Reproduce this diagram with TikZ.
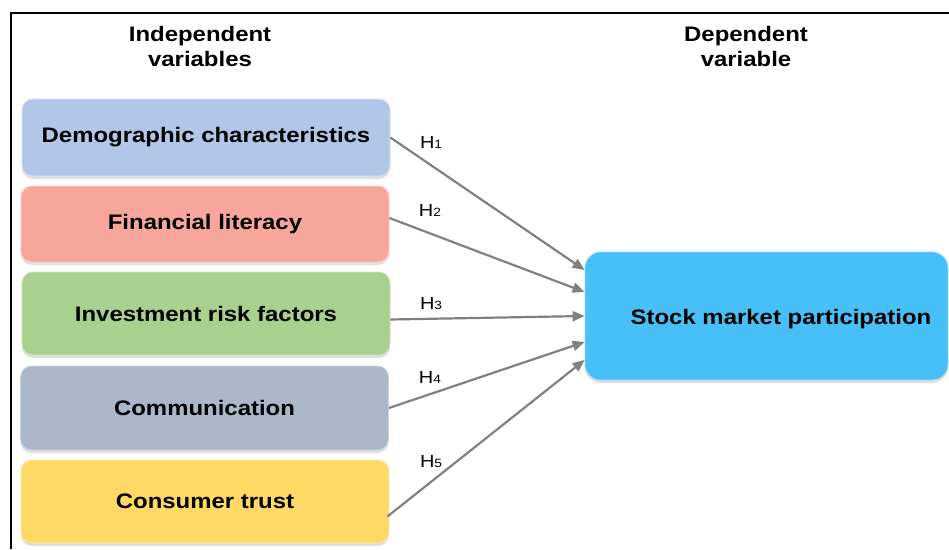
\documentclass[tikz,border=0pt]{standalone}
\usepackage{fontspec}
\setmainfont{Liberation Sans}[FakeStretch=1.14]
\usetikzlibrary{arrows.meta,calc,shadows}

\definecolor{demoblue}{HTML}{B2C6E7}
\definecolor{finred}{HTML}{F6A69B}
\definecolor{riskgreen}{HTML}{A9D18E}
\definecolor{commgray}{HTML}{ABB8CB}
\definecolor{trustyellow}{HTML}{FFD966}
\definecolor{stockcyan}{HTML}{47BFF7}
\definecolor{arrowgray}{HTML}{808080}

\tikzset{
  varbox/.style={rounded corners=11pt, fill=#1, draw=#1!60!white, line width=0.8pt,
    minimum width=368pt, minimum height=80pt, inner sep=0pt,
    font=\fontsize{21}{25}\selectfont\bfseries,
    drop shadow={shadow xshift=0pt, shadow yshift=-3pt, opacity=0.25}},
  headtext/.style={align=center, font=\fontsize{21}{25}\selectfont\bfseries},
  hlabel/.style={font=\fontsize{17.5}{20}\selectfont},
  hyp/.style={draw=arrowgray, line width=2.2pt, -{Triangle[length=12pt,width=10pt]}}
}

\newcommand{\hyplabel}[1]{H{\fontsize{12}{12}\selectfont #1}}

\begin{document}
\begin{tikzpicture}[x=1pt,y=-1pt]

                \useasboundingbox (0,0) rectangle (949,549);
                \draw[line width=1.5pt] (11,549) -- (11,13) -- (949,13);

                \node[headtext] (indep) at (200,46) {Independent\\variables};
                \node[headtext] (dep) at (746,46) {Dependent\\variable};

                \node[varbox=demoblue, minimum height=77pt] (demo) at (206,137.5) {Demographic characteristics};
                \node[varbox=finred, minimum height=76pt] (fin) at (205,224) {Financial literacy};
                \node[varbox=riskgreen, minimum height=83pt] (risk) at (206,313.5) {Investment risk factors};
                \node[varbox=commgray, minimum height=84pt] (comm) at (204.5,408) {Communication};
                \node[varbox=trustyellow, minimum height=83pt] (trust) at (205,501.5) {Consumer trust};

                \node[varbox=stockcyan, minimum width=363pt, minimum height=128pt, rounded corners=16pt] (stock) at (766.5,316) {};
                \node[font=\fontsize{21}{25}\selectfont\bfseries] (stocklbl) at (781,319) {Stock market participation};

                \draw[hyp] (demo.east) -- ($(stock.west)+(0,-46)$);
                \draw[hyp] ($(fin.east)+(0,-6)$) -- ($(stock.west)+(0,-24)$);
                \draw[hyp] ($(risk.east)+(0,6)$) -- (stock.west);
                \draw[hyp] (comm.east) -- ($(stock.west)+(0,26)$);
                \draw[hyp] ($(trust.east)+(-2,15)$) -- ($(stock.west)+(0,44)$);

                \node[hlabel] (h1) at (431,142) {\hyplabel{1}};
                \node[hlabel] (h2) at (430,210) {\hyplabel{2}};
                \node[hlabel] (h3) at (431,304) {\hyplabel{3}};
                \node[hlabel] (h4) at (430,377) {\hyplabel{4}};
                \node[hlabel] (h5) at (431,462) {\hyplabel{5}};

            \end{tikzpicture}
\end{document}
